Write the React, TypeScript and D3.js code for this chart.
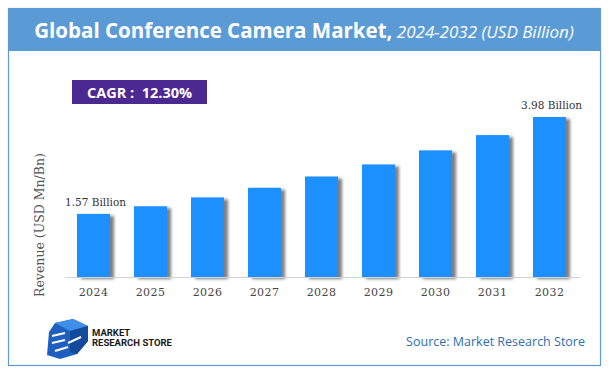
import { useEffect, useRef } from 'react';
import * as d3 from 'd3';

const years = ['2024', '2025', '2026', '2027', '2028', '2029', '2030', '2031', '2032'];
const revenue = [1.57, 1.76, 1.98, 2.22, 2.5, 2.8, 3.15, 3.53, 3.98];
const labelled = ['2024', '2032'];

const W = 609;
const H = 374;

export default function App() {
  const svgRef = useRef<SVGSVGElement>(null);

  useEffect(() => {
    if (!svgRef.current) return;
    const svg = d3.select(svgRef.current);
    svg.selectAll('*').remove();

    const defs = svg.append('defs');
    const shadow = defs.append('filter').attr('id', 'barShadow')
      .attr('x', '-20%').attr('y', '-10%').attr('width', '160%').attr('height', '130%');
    shadow.append('feDropShadow')
      .attr('dx', 4).attr('dy', 2).attr('stdDeviation', 1.6)
      .attr('flood-color', '#555').attr('flood-opacity', 0.75);

    const dashGrad = defs.append('linearGradient').attr('id', 'dashGrad');
    [[0, 0.9], [0.35, 0.35], [0.55, 0.4], [0.75, 0.95], [1, 0.45]].forEach(([o, a]) => {
      dashGrad.append('stop').attr('offset', o).attr('stop-color', '#ED7D31').attr('stop-opacity', a);
    });

    // frame + header
    svg.append('rect').attr('x', 8.5).attr('y', 8.5).attr('width', 592).attr('height', 357)
      .attr('fill', '#fff').attr('stroke', '#5B9BD5').attr('stroke-width', 1.2);
    svg.append('rect').attr('x', 8).attr('y', 8).attr('width', 593).attr('height', 43).attr('fill', '#5B9BD5');

    const title = svg.append('text').attr('x', 304).attr('y', 38).attr('text-anchor', 'middle')
      .attr('fill', '#fff').style('font-family', '"Open Sans", sans-serif');
    title.append('tspan').attr('font-weight', 'bold').attr('font-size', 20.5).text('Global Conference Camera Market,');
    title.append('tspan').attr('font-style', 'italic').attr('font-size', 17).text(' 2024-2032 (USD Billion)');

    svg.append('line').attr('x1', 43).attr('x2', 588).attr('y1', 60.5).attr('y2', 60.5)
      .attr('stroke', 'url(#dashGrad)').attr('stroke-width', 1.5).attr('stroke-dasharray', '5,3');

    // CAGR badge
    svg.append('rect').attr('x', 72).attr('y', 80).attr('width', 135).attr('height', 24).attr('fill', '#4B2991');
    svg.append('text').attr('x', 139.5).attr('y', 97.5).attr('text-anchor', 'middle')
      .attr('fill', '#fff').attr('font-weight', 'bold').attr('font-size', 14.5)
      .style('font-family', '"Open Sans", sans-serif').style('white-space', 'pre')
      .text('CAGR :  12.30%');

    // chart
    const x = d3.scaleBand<string>().domain(years).range([65, 578]).paddingInner(0.42).paddingOuter(0.21);
    const y = d3.scaleLinear().domain([0, 3.98]).range([277, 117]);

    const data = years.map((yr, i) => ({ yr, v: revenue[i] }));

    svg.append('g').selectAll('rect').data(data).join('rect')
      .attr('x', d => x(d.yr)!)
      .attr('y', d => y(d.v))
      .attr('width', x.bandwidth())
      .attr('height', d => y(0) - y(d.v))
      .attr('fill', '#1E90FF')
      .attr('filter', 'url(#barShadow)');

    svg.append('line').attr('x1', 65).attr('x2', 580).attr('y1', 277.5).attr('y2', 277.5)
      .attr('stroke', '#d0d0d0').attr('stroke-width', 1);

    svg.append('g').selectAll('text').data(years).join('text')
      .attr('x', d => x(d)! + x.bandwidth() / 2)
      .attr('y', 296)
      .attr('text-anchor', 'middle')
      .attr('font-size', 11)
      .attr('fill', '#444')
      .style('font-family', '"DejaVu Serif", serif')
      .style('letter-spacing', '0.4px')
      .text(d => d);

    svg.append('g').selectAll('text').data(data.filter(d => labelled.includes(d.yr))).join('text')
      .attr('x', d => x(d.yr)! + x.bandwidth() / 2 + 2)
      .attr('y', d => y(d.v) - 8)
      .attr('text-anchor', 'middle')
      .attr('font-size', 10.5)
      .attr('fill', '#333')
      .style('font-family', '"DejaVu Serif", serif')
      .text(d => `${d.v.toFixed(2)} Billion`);

    svg.append('text')
      .attr('transform', 'translate(44,225) rotate(-90)')
      .attr('text-anchor', 'middle')
      .attr('font-size', 12.5)
      .attr('fill', '#555')
      .style('font-family', '"DejaVu Serif", serif')
      .text('Revenue (USD Mn/Bn)');

    // logo
    const logo = svg.append('g').attr('transform', 'translate(47,319)');
    logo.append('path').attr('d', 'M8,4 L26,0 L41,7 L41,22 L30,35 L13,40 L0,36 L2,13 Z').attr('fill', '#1F5FBF');
    logo.append('path').attr('d', 'M8,4 L26,0 L41,7 L23,12 Z').attr('fill', '#3F8FEA');
    logo.append('path').attr('d', 'M23,12 L41,7 L41,22 L30,35 L23,33 Z').attr('fill', '#134A9A');
    logo.append('path').attr('d', 'M5,17 L18,14 M5,24 L18,21 M21,24 L34,18 M8,32 L21,28')
      .attr('stroke', '#fff').attr('stroke-width', 2).attr('fill', 'none');
    logo.append('text').attr('x', 45).attr('y', 17).attr('font-size', 9.5).attr('font-weight', 'bold')
      .attr('fill', '#1a1a1a').style('font-family', '"Liberation Sans Narrow", "Roboto", sans-serif')
      .text('MARKET');
    logo.append('text').attr('x', 45).attr('y', 27).attr('font-size', 9.5).attr('font-weight', 'bold')
      .attr('fill', '#1a1a1a').style('font-family', '"Liberation Sans Narrow", "Roboto", sans-serif')
      .text('RESEARCH STORE');

    svg.append('text').attr('x', 585).attr('y', 346).attr('text-anchor', 'end')
      .attr('font-size', 12.5).attr('fill', '#2F6EAD')
      .style('font-family', '"Open Sans", sans-serif')
      .text('Source: Market Research Store');
  }, []);

  return (
    <svg ref={svgRef} width={W} height={H} style={{ position: 'absolute', left: 0, top: 0 }} />
  );
}
